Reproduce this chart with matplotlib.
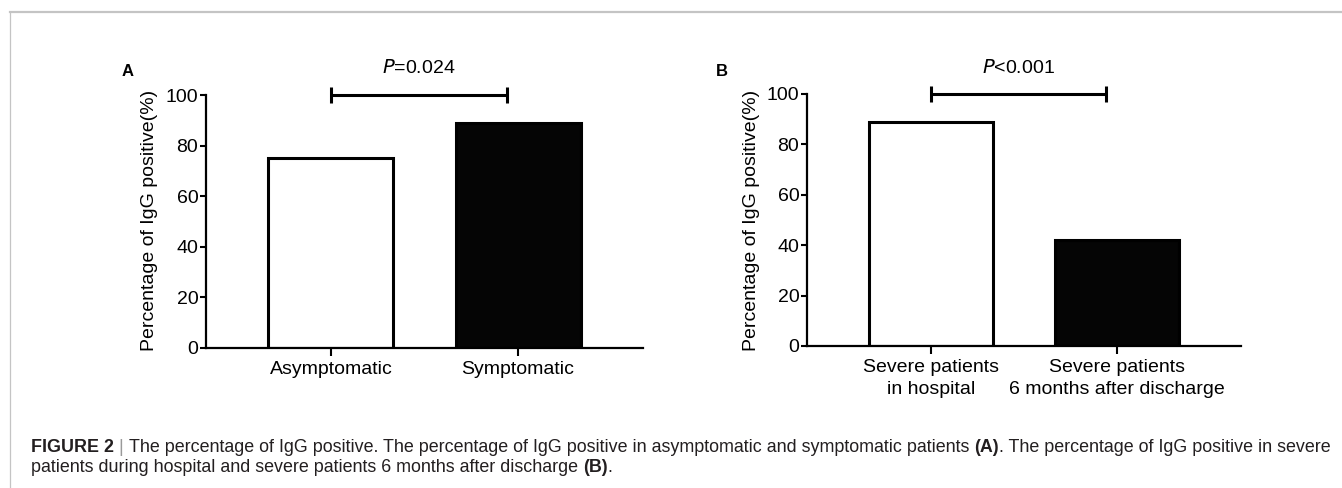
import matplotlib
matplotlib.use("Agg")
import matplotlib.pyplot as plt
from matplotlib.lines import Line2D

plt.rcParams['font.family'] = ['Liberation Sans', 'DejaVu Sans']

# ---- data ----
cats_a = ["Asymptomatic", "Symptomatic"]
vals_a = [75, 89]
p_a = "=0.024"

cats_b = ["Severe patients\nin hospital", "Severe patients\n6 months after discharge"]
vals_b = [89, 42]
p_b = "<0.001"

yticks = [0, 20, 40, 60, 80, 100]
ylabel = "Percentage of IgG positive(%)"
bar_colors = ["white", "#050505"]

W, H = 1342, 488
fig = plt.figure(figsize=(W / 100, H / 100), dpi=100)
fig.patch.set_facecolor("white")


def px_axes(x0, x1, y0, y1):
    # x0,x1 left/right pixels ; y0 bottom pixel (top-origin), y1 top pixel
    return fig.add_axes([x0 / W, (H - y0) / H, (x1 - x0) / W, (y0 - y1) / H])


def panel(ax, cats, vals, ptxt, letter, letter_xy, ylab_x):
    xs = list(range(len(cats)))
    ax.bar(xs, vals, width=0.668, color=bar_colors, edgecolor="black",
           linewidth=2.2, zorder=2)
    ax.set_xlim(-0.668, 1.668)
    ax.set_ylim(0, 100)
    ax.set_yticks(yticks)
    ax.set_xticks(xs)
    ax.set_xticklabels(cats, fontsize=14, linespacing=1.35)
    ax.tick_params(axis="y", direction="out", length=4, width=1.5, labelsize=14, pad=1.5)
    ax.tick_params(axis="x", direction="out", length=5.5, width=1.5, pad=4)
    for s in ["top", "right"]:
        ax.spines[s].set_visible(False)
    for s in ["left", "bottom"]:
        ax.spines[s].set_linewidth(1.6)
    # significance bracket
    x0, x1, yb, cap = 0.0, 0.94, 100, 3.2
    kw = dict(color="black", linewidth=2.2, clip_on=False, solid_capstyle="butt")
    ax.plot([x0, x1], [yb, yb], **kw)
    ax.plot([x0, x0], [yb - cap, yb + cap], **kw)
    ax.plot([x1, x1], [yb - cap, yb + cap], **kw)
    ax.text((x0 + x1) / 2, 110.5, r"$\mathit{P}$" + ptxt, ha="center", va="center",
            fontsize=14)
    fig.text(letter_xy[0] / W, 1 - letter_xy[1] / H, letter, fontsize=12,
             fontweight="bold", ha="center", va="center")
    fig.text(ylab_x / W, 1 - 220 / H, ylabel, rotation=90, fontsize=14,
             ha="center", va="center")


ax_a = px_axes(206, 643, 348, 95)
panel(ax_a, cats_a, vals_a, p_a, "A", (128, 72), 150)
ax_b = px_axes(807, 1241, 346, 94)
panel(ax_b, cats_b, vals_b, p_b, "B", (722, 72), 751)

# ---- frame lines ----
fig.add_artist(Line2D([10 / W, 1], [1 - 12 / H, 1 - 12 / H], color="#c4c4c4",
                      linewidth=1.6, transform=fig.transFigure))
fig.add_artist(Line2D([10 / W, 10 / W], [1 - 12 / H, 0], color="#c4c4c4",
                      linewidth=0.9, transform=fig.transFigure))

# ---- caption ----
cap_color = "#231f20"
renderer = fig.canvas.get_renderer()


def write_line(pieces, x_px, y_px, size=12.85):
    x = x_px
    for txt, bold, col in pieces:
        t = fig.text(x / W, 1 - y_px / H, txt, fontsize=size,
                     fontweight="bold" if bold else "normal",
                     color=col, ha="left", va="center")
        bb = t.get_window_extent(renderer=renderer)
        x += bb.width


write_line([
    ("FIGURE 2", True, cap_color),
    (" | ", False, "#9a9a9a"),
    ("The percentage of IgG positive. The percentage of IgG positive in asymptomatic and symptomatic patients ", False, cap_color),
    ("(A)", True, cap_color),
    (". The percentage of IgG positive in severe", False, cap_color),
], 31, 448)
write_line([
    ("patients during hospital and severe patients 6 months after discharge ", False, cap_color),
    ("(B)", True, cap_color),
    (".", False, cap_color),
], 31, 468)

fig.savefig("out.png", dpi=100, facecolor="white")
